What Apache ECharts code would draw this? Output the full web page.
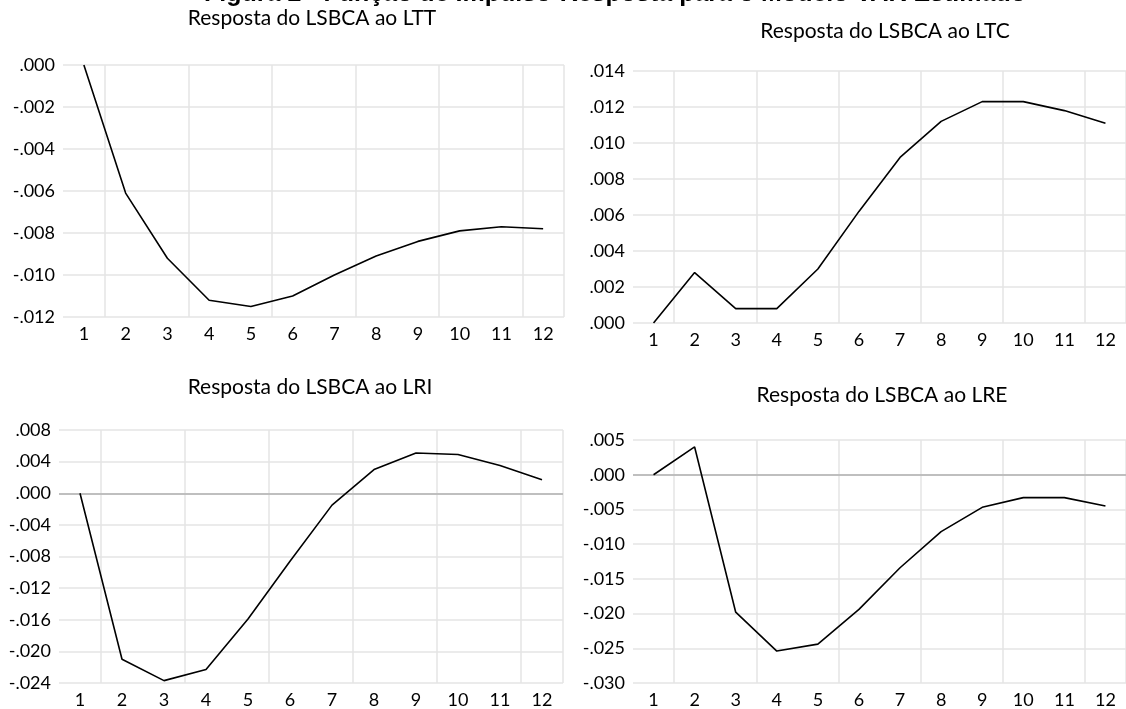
<!DOCTYPE html>
<html>
<head>
<meta charset="utf-8">
<script src="https://cdn.jsdelivr.net/npm/echarts@6/dist/echarts.min.js"></script>
<style>
html,body{margin:0;padding:0;background:#fff;}
#chart{width:1126px;height:709px;}
</style>
</head>
<body>
<div id="chart"></div>
<script>
const periods = ['1','2','3','4','5','6','7','8','9','10','11','12'];
const respLTT = [0.0000, -0.0061, -0.0092, -0.0112, -0.0115, -0.0110, -0.0100, -0.0091, -0.0084, -0.0079, -0.0077, -0.0078];
const respLTC = [0.0000, 0.0028, 0.0008, 0.0008, 0.0030, 0.0062, 0.0092, 0.0112, 0.0123, 0.0123, 0.0118, 0.0111];
const respLRI = [0.0000, -0.0210, -0.0237, -0.0223, -0.0159, -0.0086, -0.0015, 0.0030, 0.0051, 0.0049, 0.0035, 0.0017];
const respLRE = [0.0000, 0.0040, -0.0198, -0.0254, -0.0244, -0.0194, -0.0134, -0.0082, -0.0047, -0.0033, -0.0033, -0.0045];
const titles = ['Resposta do LSBCA ao LTT', 'Resposta do LSBCA ao LTC', 'Resposta do LSBCA ao LRI', 'Resposta do LSBCA ao LRE'];
const mainTitle = 'Figura 2 - Função de Impulso-Resposta para o Modelo VAR Estimado';

const FONT = 'Lato';
const gridColor = '#e4e4e4';
const fmt = v => {
  const s = Math.abs(v).toFixed(3).replace(/^0/, '');
  return (v < -1e-9 ? '-' : '') + s;
};

const panels = [
  {data: respLTT, grid: {left: 63, top: 65, width: 501, height: 252}, y: {min: -0.012, max: 0, interval: 0.002}, zero: false, t: [312, 18]},
  {data: respLTC, grid: {left: 633, top: 71, width: 498, height: 252}, y: {min: 0, max: 0.014, interval: 0.002}, zero: false, t: [885, 31]},
  {data: respLRI, grid: {left: 59, top: 430, width: 504, height: 253}, y: {min: -0.024, max: 0.008, interval: 0.004}, zero: true, t: [310, 387]},
  {data: respLRE, grid: {left: 633, top: 440, width: 498, height: 249}, y: {min: -0.030, max: 0.005, interval: 0.005}, zero: true, t: [882, 395]}
];

const option = {
  backgroundColor: '#fff',
  animation: false,
  grid: panels.map(p => Object.assign({containLabel: false}, p.grid)),
  xAxis: panels.map((p, i) => ({
    type: 'category', gridIndex: i, data: periods, boundaryGap: true,
    axisLine: {show: false}, axisTick: {show: false},
    axisLabel: {fontFamily: FONT, fontSize: 18, color: '#000', margin: 8, interval: 0},
    splitLine: {show: true, interval: idx => idx % 2 === 1, lineStyle: {color: gridColor, width: 1.5}}
  })),
  yAxis: panels.map((p, i) => ({
    type: 'value', gridIndex: i, min: p.y.min, max: p.y.max, interval: p.y.interval,
    axisLine: {show: false}, axisTick: {show: false},
    axisLabel: {fontFamily: FONT, fontSize: 18, color: '#000', margin: 8, formatter: fmt},
    splitLine: {show: true, lineStyle: {color: gridColor, width: 1.5}}
  })),
  series: panels.map((p, i) => ({
    type: 'line', xAxisIndex: i, yAxisIndex: i, data: p.data,
    showSymbol: false, symbol: 'none',
    lineStyle: {color: '#000', width: 1.6},
    z: 5,
    markLine: p.zero ? {
      silent: true, symbol: 'none', label: {show: false},
      lineStyle: {color: '#b0b0b0', width: 1.5, type: 'solid'},
      data: [{yAxis: 0}], z: 3
    } : undefined
  })),
  graphic: [
    {type: 'text', x: 615, y: 7, style: {text: mainTitle, fontFamily: 'Liberation Sans', fontWeight: 'bold', fontSize: 25, fill: '#000', align: 'center', verticalAlign: 'bottom'}}
  ].concat(panels.map((p, i) => ({
    type: 'text', x: p.t[0], y: p.t[1],
    style: {text: titles[i], fontFamily: FONT, fontSize: 21, fill: '#000', align: 'center', verticalAlign: 'middle'}
  })))
};

const chart = echarts.init(document.getElementById('chart'), null, {renderer: 'canvas'});
chart.setOption(option);
</script>
</body>
</html>
